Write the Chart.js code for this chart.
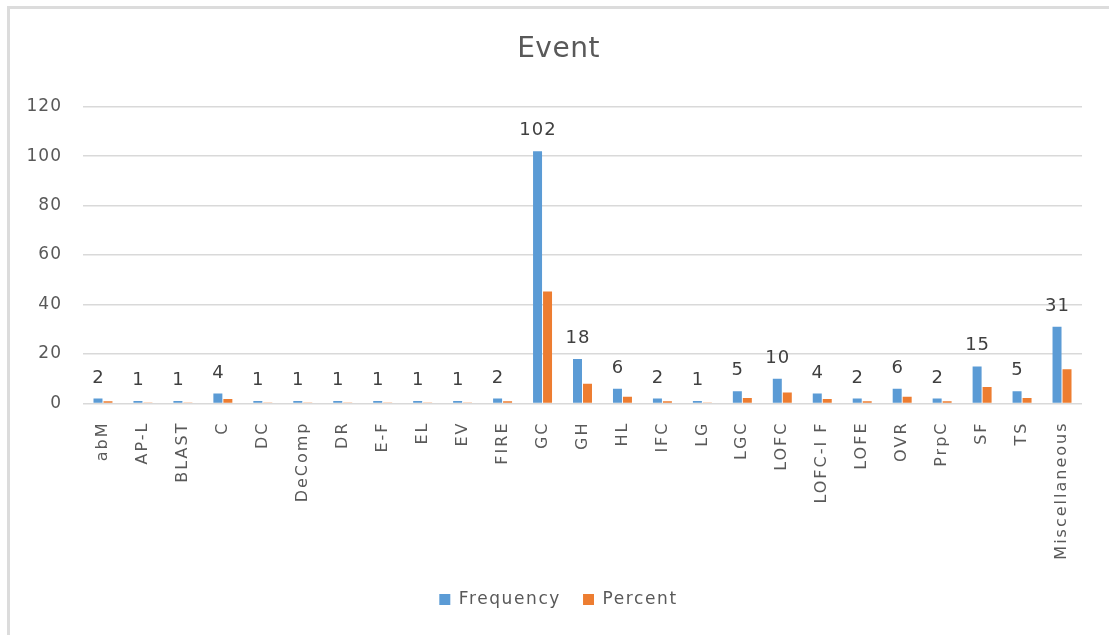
<!DOCTYPE html>
<html>
<head>
<meta charset="utf-8">
<title>Event</title>
<script src="https://cdn.jsdelivr.net/npm/chart.js@4"></script>
<style>
  html, body { margin: 0; padding: 0; background: #fff; overflow: hidden; }
  #wrap { position: relative; width: 1109px; height: 635px; overflow: hidden; }
  .edge { position: absolute; background: #dcdcdc; }
  #edgeTop { left: 7px; top: 6px; width: 1102px; height: 2.5px; }
  #edgeLeft { left: 7px; top: 6px; width: 2.5px; height: 629px; }
  canvas { position: absolute; left: 0; top: 0; }
</style>
</head>
<body>
<div id="wrap">
  <div class="edge" id="edgeTop"></div>
  <div class="edge" id="edgeLeft"></div>
  <canvas id="chart" width="1109" height="635"></canvas>
</div>
<script>
// event codes on the x axis
const categories = ['abM','AP-L','BLAST','C','DC','DeComp','DR','E-F','EL','EV','FIRE','GC','GH','HL',
  'IFC','LG','LGC','LOFC','LOFC-I F','LOFE','OVR','PrpC','SF','TS','Miscellaneous'];
const frequency = [2,1,1,4,1,1,1,1,1,1,2,102,18,6,2,1,5,10,4,2,6,2,15,5,31];
const percent = [0.9,0.4,0.4,1.8,0.4,0.4,0.4,0.4,0.4,0.4,0.9,45.3,8.0,2.7,0.9,0.4,2.2,4.4,1.8,0.9,2.7,0.9,6.7,2.2,13.8];
const yTicks = [0,20,40,60,80,100,120];

const textColor = '#595959';
const gridColor = '#d9d9d9';
const fontFamily = "'DejaVu Sans', sans-serif";

// run a box's fit/draw with its own letter spacing
function spaced(box, px){
  if(box._spaced) return;
  box._spaced = true;
  ['fit','draw'].forEach(m=>{
    const orig = box[m];
    box[m] = function(...args){
      const ctx = this.ctx;
      const prev = ctx.letterSpacing;
      ctx.letterSpacing = px;
      const r = orig.apply(this, args);
      ctx.letterSpacing = prev;
      return r;
    };
  });
}

const boxSpacing = {
  id: 'boxSpacing',
  afterInit(chart){
    if(chart.titleBlock) spaced(chart.titleBlock, '0.5px');
    if(chart.legend) spaced(chart.legend, '1.6px');
  }
};

// value labels above the frequency bars
const valueLabels = {
  id: 'valueLabels',
  afterDatasetsDraw(chart){
    const ctx = chart.ctx;
    const meta = chart.getDatasetMeta(0);
    ctx.save();
    ctx.font = "18px " + fontFamily;
    ctx.letterSpacing = '1px';
    ctx.fillStyle = '#404040';
    ctx.textAlign = 'center';
    ctx.textBaseline = 'alphabetic';
    meta.data.forEach((bar, i) => {
      ctx.fillText(String(frequency[i]), bar.x + 0.5, bar.y - 16);
    });
    ctx.restore();
  }
};

new Chart(document.getElementById('chart'), {
  type: 'bar',
  data: {
    labels: categories,
    datasets: [
      { label: 'Frequency', data: frequency, backgroundColor: '#5B9BD5', borderWidth: 0,
        barPercentage: 0.9, categoryPercentage: 0.5, yAxisID: 'y' },
      { label: 'Percent', data: percent, backgroundColor: '#ED7D31', borderWidth: 0,
        barPercentage: 0.9, categoryPercentage: 0.5, yAxisID: 'y' }
    ]
  },
  options: {
    responsive: false,
    animation: false,
    devicePixelRatio: 1,
    layout: { padding: { left: 8, right: 0, top: 0, bottom: 17 } },
    plugins: {
      title: {
        display: true,
        text: 'Event',
        color: textColor,
        font: { family: fontFamily, size: 28, weight: 'normal' },
        padding: { top: 33, bottom: 40 }
      },
      legend: {
        position: 'bottom',
        labels: {
          color: textColor,
          font: { family: fontFamily, size: 17 },
          boxWidth: 11,
          boxHeight: 11,
          padding: 22
        }
      },
      tooltip: { enabled: false }
    },
    scales: {
      x: {
        grid: { display: false },
        border: { display: false },
        ticks: {
          color: textColor,
          font: { family: fontFamily, size: 16 },
          minRotation: 90,
          maxRotation: 90,
          autoSkip: false,
          padding: 10
        },
        afterFit(scale){ spaced(scale, '2px'); scale.height = 165.5; }
      },
      y: {
        min: 0,
        max: 120,
        grid: { color: gridColor, lineWidth: 1.5, drawTicks: false },
        border: { display: false },
        ticks: {
          color: textColor,
          font: { family: fontFamily, size: 17 },
          padding: 21
        },
        afterBuildTicks(scale){ scale.ticks = yTicks.map(v => ({ value: v })); },
        afterFit(scale){ spaced(scale, '1px'); scale.width = 75; }
      },
      // empty right-hand gutter so the title and legend centre on the frame
      y2: {
        position: 'right',
        grid: { display: false },
        border: { display: false },
        ticks: { display: false },
        afterFit(scale){ scale.width = 27; }
      }
    }
  },
  plugins: [boxSpacing, valueLabels]
});
</script>
</body>
</html>
